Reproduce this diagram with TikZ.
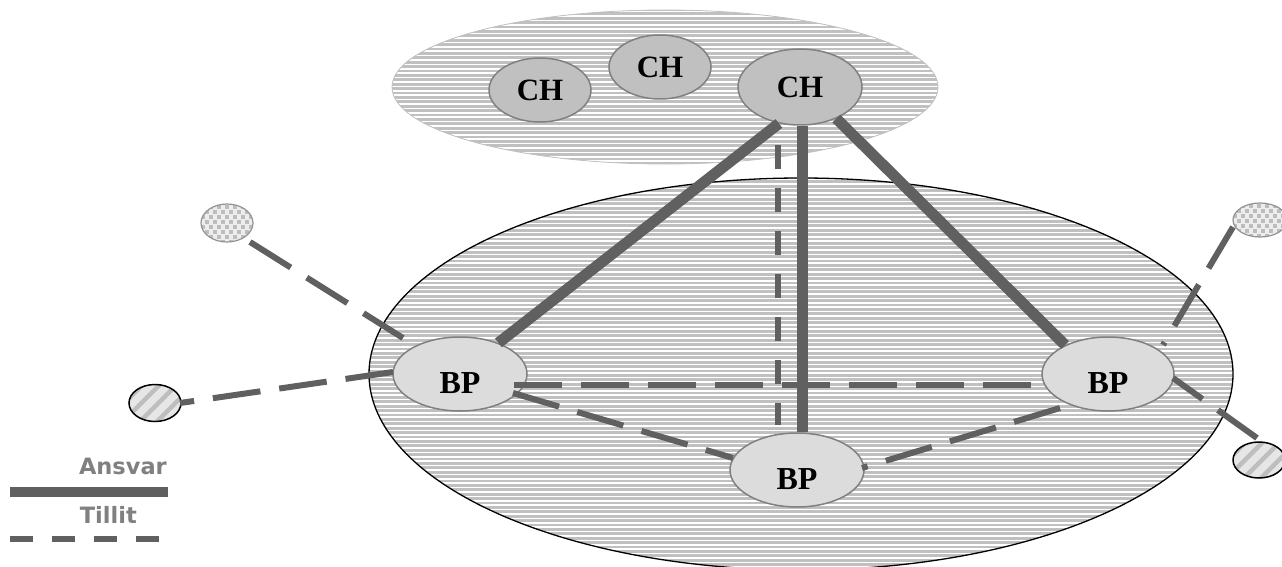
\documentclass[tikz,border=0pt]{standalone}
\usepackage{fontspec}
\setmainfont{Liberation Serif}
\newfontfamily\legendfont{DejaVu Sans}
\usetikzlibrary{shapes.geometric,calc}

\definecolor{linegray}{HTML}{606060}
\definecolor{regiongray}{HTML}{C0C0C0}
\definecolor{chfill}{HTML}{C0C0C0}
\definecolor{bpfill}{HTML}{DCDCDC}
\definecolor{rimgray}{HTML}{808080}
\definecolor{legendgray}{HTML}{808080}
\definecolor{dotbase}{HTML}{EDEDED}
\definecolor{dotgray}{HTML}{BDBDBD}
\definecolor{hatchbase}{HTML}{E6E6E6}
\definecolor{hatchgray}{HTML}{BEBEBE}

\tikzset{
  % white horizontal rulings inside a region
  ruled/.style={path picture={
      \foreach \k in {0,...,95}
        \draw[white,line width=1.5pt]
          ($(path picture bounding box.north west)+(0,{1.6+\k*4.4})$) --
          ($(path picture bounding box.north east)+(0,{1.6+\k*4.4})$);}},
  % small squares on a staggered grid
  dotted fill/.style={path picture={
      \foreach \i in {0,...,8}
        \foreach \j in {0,...,8}{
          \pgfmathsetmacro\dx{\i*8+mod(\j,2)*4}
          \fill[dotgray] ($(path picture bounding box.north west)+(\dx,{1+\j*5})$) rectangle +(3.8,3.8);}}},
  % diagonal stripes rising to the right
  striped fill/.style={path picture={
      \foreach \k in {0,...,7}
        \draw[hatchgray,line width=4.4pt]
          ($(path picture bounding box.south west)+({\k*17-40},0)$) -- ++(60,-60);}},
  cluster/.style={ellipse,inner sep=0pt,fill=regiongray,draw=black,line width=1.3pt,ruled},
  hubzone/.style={ellipse,inner sep=0pt,fill=regiongray,draw=regiongray,line width=0.8pt,ruled},
  chnode/.style={ellipse,inner sep=0pt,fill=chfill,draw=rimgray,line width=1.5pt,
    font=\fontsize{31pt}{31pt}\selectfont\bfseries},
  bpnode/.style={ellipse,inner sep=0pt,fill=bpfill,draw=rimgray,line width=1.5pt,
    minimum width=134pt,minimum height=74pt,text height=39pt,text depth=0pt,
    font=\fontsize{32pt}{32pt}\selectfont\bfseries},
  dotnode/.style={ellipse,inner sep=0pt,fill=dotbase,draw=gray!85,line width=1.2pt,dotted fill},
  hatchnode/.style={ellipse,inner sep=0pt,fill=hatchbase,draw=black,line width=1.5pt,striped fill},
  ansvar/.style={draw=linegray,line width=11pt},
  tillit/.style={draw=linegray,line width=6pt,dash pattern=on 48pt off 19pt},
  tillitshort/.style={draw=linegray,line width=6pt,dash pattern=on 24pt off 19pt},
  legendtext/.style={inner sep=0pt,text=legendgray,font=\legendfont\bfseries\fontsize{22.5pt}{22.5pt}\selectfont},
}

\begin{document}
\begin{tikzpicture}[x=1pt,y=-1pt]
\useasboundingbox (0,0) rectangle (1282,567);

% regions
\node[cluster,minimum width=864pt,minimum height=392pt] (members) at (801,374) {};
\node[hubzone,minimum width=546pt,minimum height=154pt] (hub) at (665,87) {};

% clearing houses
\node[chnode,minimum width=102pt,minimum height=64pt] (ch1) at (540,90) {CH};
\node[chnode,minimum width=102pt,minimum height=64pt] (ch2) at (660,67) {CH};
\node[chnode,minimum width=124pt,minimum height=76pt] (ch3) at (800,87) {CH};

% parties
\node[bpnode] (bpl) at (460,374) {BP};
\node[bpnode,minimum width=132pt] (bpr) at (1108,374) {BP};
\node[bpnode] (bpb) at (797,470) {BP};

% outside parties
\node[dotnode,minimum width=52pt,minimum height=38pt] (dtl) at (227,223) {};
\node[dotnode,minimum width=54pt,minimum height=34pt] (dtr) at (1260,220) {};
\node[hatchnode,minimum width=52pt,minimum height=37pt] (hl) at (155,403) {};
\node[hatchnode,minimum width=52pt,minimum height=36pt] (hr) at (1259,460) {};

% responsibility links
\coordinate (chfoot) at ($(ch3.south)+(2,0)$);
\draw[ansvar] (ch3.240) -- (bpl.39);
\draw[ansvar] (chfoot) -- (chfoot |- bpb.north);
\draw[ansvar] (ch3.319) -- (bpr.146);

% trust links
\draw[tillitshort] ($(ch3)+(-22,58)$) -- ($(bpb)+(-19,-45)$);
\draw[tillit] ($(bpl)+(54,11)$) -- ($(bpr)+(-70,11)$);
\draw[tillit] ($(bpl)+(53,19)$) -- ($(bpb)+(-64,-12)$);
\draw[tillit] ($(bpr)+(-48,34)$) -- ($(bpb)+(65,-2)$);
\draw[tillit] ($(dtl)+(23,19)$) -- ($(bpl)+(-57,-36)$);
\draw[tillit] ($(bpl)+(-67,-2)$) -- ($(hl)+(25,0)$);
\draw[tillit] ($(dtr)+(-27,7)$) -- ($(bpr)+(55,-29)$);
\draw[tillit] ($(hr)+(-2,-22)$) -- ($(bpr)+(65,4)$);

% legend
\node[legendtext,anchor=base east] (ansvarlabel) at (167,474) {Ansvar};
\coordinate (ansvarA) at (10,492);
\coordinate (ansvarB) at (168,492);
\draw[ansvar,line width=10pt] (ansvarA) -- (ansvarB);
\node[legendtext,anchor=base east] (tillitlabel) at (137,523) {Tillit};
\coordinate (tillitA) at (10,539);
\coordinate (tillitB) at (162,539);
\draw[linegray,line width=5.5pt,dash pattern=on 23pt off 19pt] (tillitA) -- (tillitB);
\end{tikzpicture}
\end{document}
